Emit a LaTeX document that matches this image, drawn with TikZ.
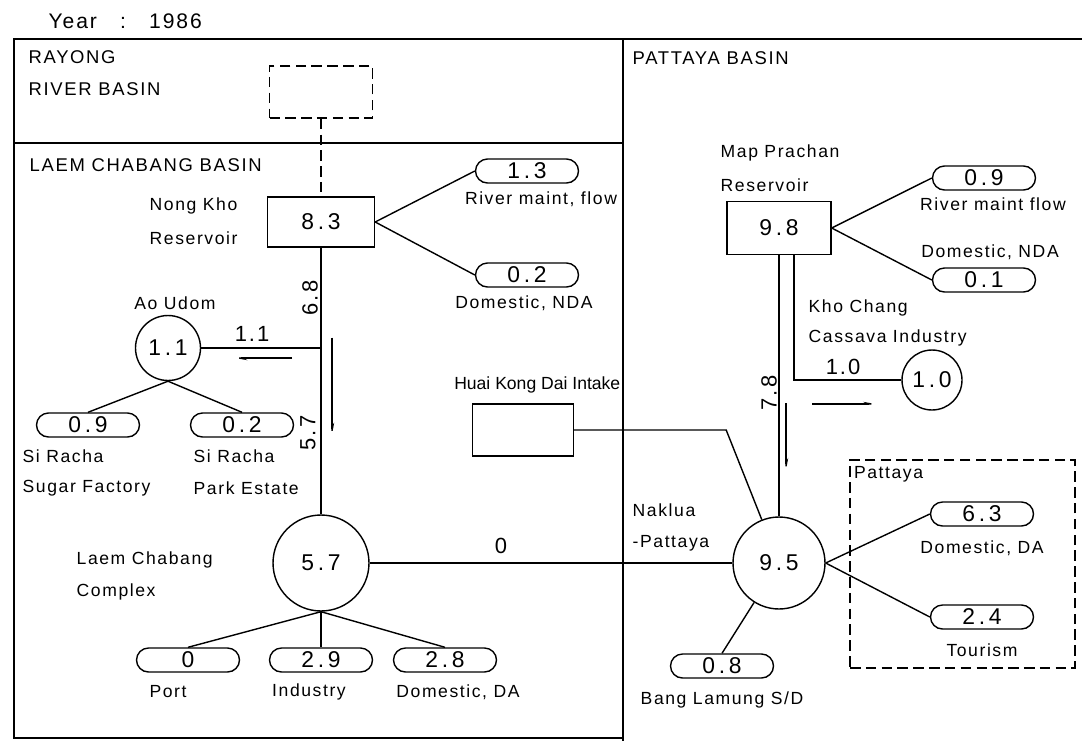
\documentclass[tikz,border=0pt]{standalone}
\usepackage{fontspec}
\setmainfont{Liberation Sans}
\newfontfamily\lblfont{Liberation Sans}[LetterSpace=9]
\newfontfamily\numfont{Liberation Sans}[LetterSpace=16]
\usetikzlibrary{shapes.misc,arrows.meta,calc}
\begin{document}
\begin{tikzpicture}[
  x=0.02cm, y=-0.02cm,
  line width=0.8pt,
  every node/.style={inner sep=0pt, font=\lblfont\fontsize{10}{12}\selectfont},
  num/.style={font=\numfont\fontsize{13}{15}\selectfont},
  fnum/.style={font=\lblfont\fontsize{12.5}{14}\selectfont},
  capt/.style={anchor=west, font=\lblfont\fontsize{10.5}{12}\selectfont},
  pill/.style={draw, rounded rectangle, minimum width=2.06cm, minimum height=0.48cm, num},
  site/.style={draw, circle, num},
  resv/.style={draw, rectangle, num},
  longdash/.style={dash pattern=on 6pt off 3pt},
  flow/.style={-{Stealth[harpoon, length=7pt, width=2.5pt]}}
]
\useasboundingbox (0,0) rectangle (1082,741);
\draw[line width=1pt] (1082,39) -- (14,39) -- (14,738) -- (623,738);
\draw[line width=1pt] (623,39) -- (623,741);
\draw (14,143) -- (623,143);

\node[anchor=west, font=\lblfont\fontsize{12}{14}\selectfont] (year) at (48,21) {Year\hspace{1.1em}:\hspace{1.1em}1986};
\node[capt] (rayong) at (28,57) {RAYONG};
\node[capt] (rivbasin) at (28,89) {RIVER BASIN};
\node[capt] (lcbasin) at (29,165) {LAEM CHABANG BASIN};
\node[capt] (ptbasin) at (632,58) {PATTAYA BASIN};

\node[resv, longdash, minimum width=2.06cm, minimum height=1.04cm] (rayres) at (321,92) {};
\node[resv, minimum width=2.14cm, minimum height=1cm] (nongkho) at (321,222) {8.3};
\node[anchor=west] (nongkholbl) at (149,206) {Nong Kho};
\node[anchor=west] (nongkholbl2) at (149,238) {Reservoir};
\node[pill] (p13) at (527,171) {1.3};
\node (rmf1) at (541,199) {River maint, flow};
\node[pill] (p02a) at (527,275) {0.2};
\node (dnda1) at (524,303) {Domestic, NDA};

\node[site, minimum size=1.3cm] (aoudom) at (168,348) {1.1};
\node (aoudomlbl) at (175,303) {Ao Udom};
\node[pill] (p09a) at (88,425) {0.9};
\node[pill] (p02b) at (242,425) {0.2};
\node[anchor=west] (srsugar) at (22,456) {Si Racha};
\node[anchor=west] (srsugar2) at (22,488) {Sugar Factory};
\node[anchor=west] (srpark) at (193,456) {Si Racha};
\node[anchor=west] (srpark2) at (193,488) {Park Estate};

\node[site, minimum size=1.92cm] (lcc) at (321,563) {5.7};
\node[anchor=west] (lcclbl) at (76,560) {Laem Chabang};
\node[anchor=west] (lcclbl2) at (76,592) {Complex};
\node[pill] (p0) at (188,660) {0};
\node[pill] (p29) at (321,660) {2.9};
\node[pill] (p28) at (445,660) {2.8};
\node (port) at (168,692) {Port};
\node (ind) at (309,692) {Industry};
\node (dda1) at (458,692) {Domestic, DA};

\node[resv, minimum width=2.02cm, minimum height=1.04cm] (huai) at (523,430) {};
\node[anchor=east, font=\fontsize{10}{12}\selectfont] (huailbl) at (621,385) {Huai Kong Dai Intake};

\node[resv, minimum width=2.08cm, minimum height=1.06cm] (mapp) at (779,228) {9.8};
\node[anchor=west] (mapplbl) at (720,153) {Map Prachan};
\node[anchor=west] (mapplbl2) at (720,185) {Reservoir};
\node[pill] (p09b) at (984,178) {0.9};
\node (rmf2) at (993,204) {River maint flow};
\node (dnda2) at (990,252) {Domestic, NDA};
\node[pill] (p01) at (984,280) {0.1};
\node[anchor=west] (kclbl) at (808,308) {Kho Chang};
\node[anchor=west] (kclbl2) at (808,338) {Cassava Industry};
\node[site, minimum size=1.2cm] (khoc) at (932,380) {1.0};

\node[site, minimum size=1.84cm] (naklua) at (779,563) {9.5};
\node[anchor=west] (nakluelbl) at (632,510) {Naklua};
\node[anchor=west] (nakluelbl2) at (632,543) {-Pattaya};
\node[pill] (p08) at (722,666) {0.8};
\node (blsd) at (722,700) {Bang Lamung S/D};

\node[draw, longdash, minimum width=4.5cm, minimum height=4.16cm] (pattaya) at (962.5,564) {};
\node[anchor=north west] (pattayalbl) at ($(pattaya.north west)+(4,6)$) {Pattaya};
\node[pill] (p63) at (982,514) {6.3};
\node (dda2) at (982,548) {Domestic, DA};
\node[pill] (p24) at (982,617) {2.4};
\node (tour) at (982,650) {Tourism};

\draw[longdash] (rayres) -- (nongkho);
\draw (nongkho.east) -- (p13.west);
\draw (nongkho.east) -- (p02a.west);
\draw (nongkho) -- (lcc);
\draw (aoudom.east) -- (aoudom.east -| nongkho.south);
\draw (aoudom.south) -- (p09a.north);
\draw (aoudom.south) -- (p02b.north);
\draw (lcc.south) -- (p0.north);
\draw (lcc.south) -- (p29.north);
\draw (lcc.south) -- (p28.north);
\draw (lcc) -- (naklua);
\draw (huai.east) -- ++(152,0) -- (naklua);
\draw (mapp.east) -- (p09b.west);
\draw (mapp.east) -- (p01.west);
\draw (mapp) -- (naklua);
\draw ($(mapp.south)+(15,0)$) |- (khoc.west);
\draw (naklua.east) -- (p63.west);
\draw (naklua.east) -- (p24.west);
\draw (naklua) -- (p08.north);

\node[fnum, rotate=90] (f68) at (310,298) {6.8};
\node[fnum, rotate=90] (f57) at (308,433) {5.7};
\node[fnum] (f11) at (252,334) {1.1};
\node[fnum, rotate=90] (f78) at (769,393) {7.8};
\node[fnum] (f10) at (843,367) {1.0};
\node[fnum] (f0) at (501,546) {0};
\draw[flow] ($(nongkho.south)+(11,90)$) -- ++(0,101);
\draw[flow] ($(aoudom.east)+(91,10)$) -- ++(-61,0);
\draw[flow] ($(khoc.west)+(-89,24)$) -- ++(67,0);
\draw[flow] ($(mapp.south)+(7,148)$) -- ++(0,71);
\end{tikzpicture}
\end{document}
